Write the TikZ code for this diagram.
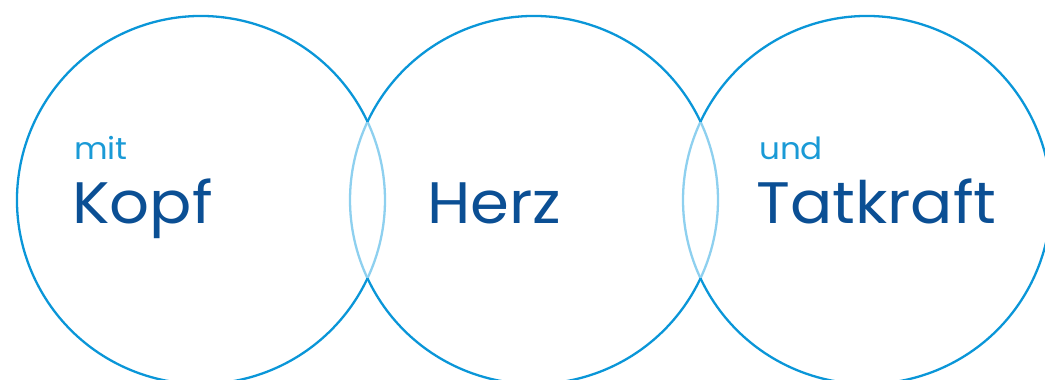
\documentclass[tikz,border=0pt]{standalone}
\usepackage{fontspec}
\setmainfont{Poppins}[FakeStretch=1.07]
\definecolor{ringdark}{HTML}{0A96D8}
\definecolor{ringlight}{HTML}{8ED0EF}
\definecolor{textdark}{HTML}{0B4F94}
\definecolor{textlight}{HTML}{1A9AD6}
\begin{document}
\begin{tikzpicture}[x=1pt,y=1pt,
  ring/.style={draw=ringdark,line width=2.3pt},
  lens/.style={draw=ringlight,line width=2.3pt},
  small/.style={anchor=base west,inner sep=0pt,text=textlight,font=\fontsize{30.5}{33}\selectfont},
  big/.style={anchor=base west,inner sep=0pt,text=textdark,font=\fontsize{58.5}{64}\selectfont}]
\useasboundingbox (0,0) rectangle (1045,380);
\def\R{184}
\def\A{25.2}
\coordinate (c1) at (201,180);
\coordinate (c2) at (534,180);
\coordinate (c3) at (867,180);
% lighter lens arcs
\draw[lens] (c1) ++(-\A:\R) arc[start angle=-\A,end angle=\A,radius=\R];
\draw[lens] (c2) ++(180-\A:\R) arc[start angle=180-\A,end angle=180+\A,radius=\R];
\draw[lens] (c2) ++(-\A:\R) arc[start angle=-\A,end angle=\A,radius=\R];
\draw[lens] (c3) ++(180-\A:\R) arc[start angle=180-\A,end angle=180+\A,radius=\R];
% darker outer arcs
\draw[ring] (c1) ++(\A:\R) arc[start angle=\A,end angle=360-\A,radius=\R];
\draw[ring] (c2) ++(\A:\R) arc[start angle=\A,end angle=180-\A,radius=\R];
\draw[ring] (c2) ++(180+\A:\R) arc[start angle=180+\A,end angle=360-\A,radius=\R];
\draw[ring] (c3) ++(-180+\A:\R) arc[start angle=-180+\A,end angle=180-\A,radius=\R];
% texts
\node[small] (mit) at (74,220) {mit};
\node[big] (kopf) at (72,156) {Kopf};
\node[big] (herz) at (427,156) {Herz};
\node[small] (und) at (759,220) {und};
\node[big] (tatkraft) at (756,156) {Tatkraft};
\end{tikzpicture}
\end{document}
